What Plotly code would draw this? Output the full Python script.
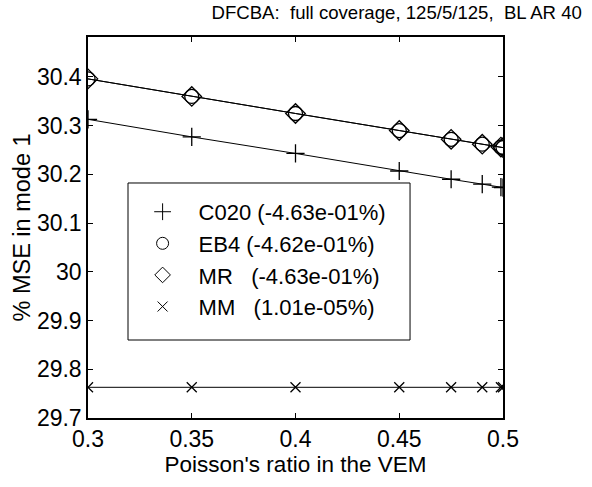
import plotly.graph_objects as go

x_vals = [0.3, 0.35, 0.4, 0.45, 0.475, 0.49, 0.499, 0.5]
c020 = [30.313, 30.277, 30.243, 30.207, 30.190, 30.180, 30.174, 30.173]
eb4 = [30.396, 30.360, 30.325, 30.290, 30.272, 30.262, 30.256, 30.255]
mr = [30.396, 30.360, 30.325, 30.290, 30.272, 30.262, 30.256, 30.255]
mm = [29.763, 29.763, 29.763, 29.763, 29.763, 29.763, 29.763, 29.763]

names = ["C020 (-4.63e-01%)", "EB4 (-4.62e-01%)", "MR\u00a0\u00a0\u00a0(-4.63e-01%)", "MM\u00a0\u00a0\u00a0(1.01e-05%)"]
series = [c020, eb4, mr, mm]
symbols = ["cross-thin-open", "circle-open", "diamond-open", "x-thin-open"]
sizes = [13, 14, 15, 10]

x_ticks = [0.3, 0.35, 0.4, 0.45, 0.5]
y_ticks = [29.7, 29.8, 29.9, 30.0, 30.1, 30.2, 30.3, 30.4]

fig = go.Figure()
for i, (nm, ys, sym, sz) in enumerate(zip(names, series, symbols, sizes)):
    fig.add_trace(go.Scatter(
        x=x_vals, y=ys, mode="lines+markers", showlegend=False,
        line=dict(color="black", width=1),
        marker=dict(symbol=sym, size=sz, color="black", line=dict(color="black", width=1.3)),
    ))
for i, (nm, sym, sz) in enumerate(zip(names, symbols, sizes)):
    fig.add_trace(go.Scatter(
        x=[None], y=[None], mode="markers", name=nm, legendgroup=str(i),
        marker=dict(symbol=sym, size=min(sz, 12), color="black", line=dict(color="black", width=1)),
    ))

# legend frame
fig.add_shape(type="rect", xref="paper", yref="paper", x0=0.0964, x1=0.776, y0=0.2047, y1=0.6168,
              line=dict(color="black", width=1), fillcolor="white", layer="above")

font = "Liberation Sans, Arial, sans-serif"
fig.update_layout(
    width=592, height=487,
    margin=dict(l=88, r=89, t=37, b=69),
    plot_bgcolor="white", paper_bgcolor="white",
    font=dict(family=font, size=23, color="black"),
    title=dict(text="DFCBA:  full coverage, 125/5/125,  BL AR 40", x=0.67, xanchor="center",
               xref="container", y=0.975, yanchor="middle", yref="container",
               font=dict(size=18.6, family=font, color="black")),
    xaxis=dict(range=[0.3, 0.5], tickvals=x_ticks, ticks="inside", ticklen=5, tickcolor="black",
               showline=True, linecolor="black", linewidth=1.5, mirror="ticks", showgrid=False,
               zeroline=False, automargin=False,
               title=dict(text="Poisson's ratio in the VEM", standoff=3, font=dict(size=22.5)),
               tickfont=dict(size=23)),
    yaxis=dict(range=[29.7, 30.482], tickvals=y_ticks, ticks="inside", ticklen=5, tickcolor="black",
               showline=True, linecolor="black", linewidth=1.5, mirror="ticks", showgrid=False,
               zeroline=False, automargin=False,
               title=dict(text="% MSE in mode 1", standoff=0, font=dict(size=23.5)),
               tickfont=dict(size=23)),
    legend=dict(x=0.093, y=0.596, xanchor="left", yanchor="top", bgcolor="rgba(0,0,0,0)",
                borderwidth=0, font=dict(size=22),
                traceorder="grouped", tracegroupgap=0, itemwidth=62),
)
fig.write_html("out.html", post_script="document.body.style.margin='0';",
               config={"displayModeBar": False})
